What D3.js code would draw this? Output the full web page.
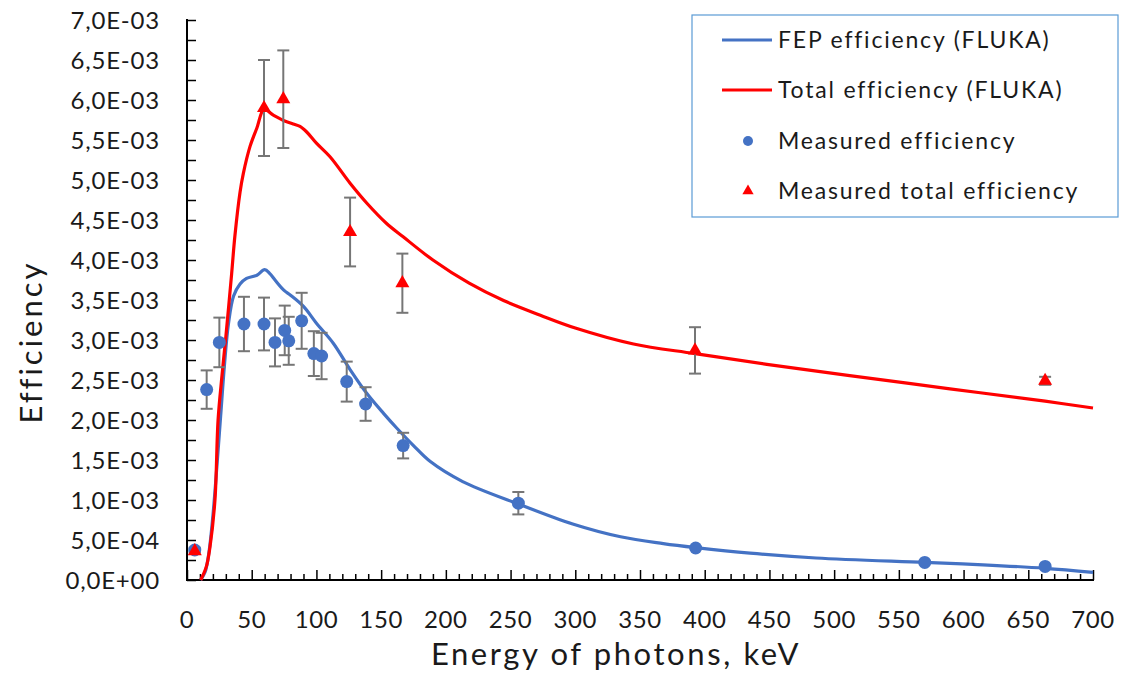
<!DOCTYPE html>
<html><head><meta charset="utf-8">
<script src="https://cdn.jsdelivr.net/npm/d3@7"></script>
<style>body{margin:0;background:#fff}svg{display:block}text{font-family:Lato,"Open Sans",sans-serif;fill:#1a1a1a}</style>
</head><body><svg id="c" width="1122" height="676"></svg>
<script>
// FLUKA FEP efficiency curve (keV, x1e-3)
const fepE = [10.5,14,17,20,23,26,29,32,36,41,46,54,60,64,68,75,80,90,100,113,126,139,152,162,175,188,213,256,298,335,368,393,435,486,570,615,663,700];
const fepV = [0,0.1,0.35,0.8,1.4,2.05,2.7,3.2,3.55,3.7,3.77,3.81,3.88,3.83,3.75,3.62,3.56,3.42,3.21,2.96,2.63,2.33,2.08,1.90,1.68,1.48,1.23,0.95,0.70,0.54,0.455,0.405,0.335,0.275,0.22,0.19,0.146,0.096];
// FLUKA total efficiency curve
const totE = [10.6,15,17.8,21.6,24,27,30,34.5,37,41,43.5,48.7,54,59.5,66.7,75,82,87.3,92.5,100,110.5,126,139,154,167,190,218,245,273,300,345,392.5,448,512,589.5,663,700];
const totV = [0,0.17,0.42,1.0,2.0,2.55,3.04,3.83,4.3,4.85,5.08,5.42,5.65,5.88,5.81,5.74,5.70,5.67,5.6,5.46,5.29,4.96,4.71,4.46,4.29,4.0,3.71,3.49,3.31,3.15,2.95,2.83,2.695,2.555,2.39,2.235,2.15];
// Measured FEP efficiency
const measE = [6,15.2,25,44,59.5,68,75.5,78.6,88.6,98,104,123.4,138,167,256,393,570,663];
const measV = [0.375,2.38,2.97,3.20,3.20,2.97,3.12,2.99,3.24,2.83,2.80,2.48,2.20,1.68,0.96,0.40,0.22,0.17];
const measErr = [0.03,0.24,0.31,0.34,0.33,0.30,0.31,0.30,0.35,0.28,0.29,0.25,0.21,0.16,0.14,0,0,0];
// Measured total efficiency
const totME = [6,59.5,74.4,126,166.4,392.5,663];
const totMV = [0.36,5.90,6.01,4.35,3.71,2.87,2.49];
const totMErr = [0,0.60,0.61,0.43,0.37,0.29,0.05];
// Ticks
const yMajor = [0,0.5,1,1.5,2,2.5,3,3.5,4,4.5,5,5.5,6,6.5,7];
const xMajor = [0,50,100,150,200,250,300,350,400,450,500,550,600,650,700];
const legendLabels = ["FEP efficiency (FLUKA)","Total efficiency (FLUKA)","Measured efficiency","Measured total efficiency"];

const S = 1e-3;
const svg = d3.select("#c");
const x = d3.scaleLinear().domain([0,700]).range([187,1093]);
const y = d3.scaleLinear().domain([0,7e-3]).range([580,20]);
const BLUE = "#4472c4", RED = "#ff0000", GREY = "#767676";

function fmt(v){
  let s = v.toExponential(1);
  let [m,e] = s.split("e");
  let sign = e[0]==="-"?"-":"+";
  let n = Math.abs(parseInt(e));
  return m.replace(".",",")+"E"+sign+(n<10?"0":"")+n;
}

// Y axis
const yMinor = d3.range(0,7.0001e-3,0.25e-3);
const yAx = svg.append("g").attr("transform","translate(187,0)")
  .call(d3.axisRight(y).tickValues(yMinor).tickSize(9).tickFormat(""));
yAx.select(".domain").attr("stroke","#000").attr("stroke-width",2).attr("d","M0,19V581");
yAx.selectAll(".tick line").attr("stroke","#000").attr("stroke-width",1.5);
svg.append("g").selectAll("text").data(yMajor).join("text")
  .attr("x",160).attr("y",d=>y(d*S)).attr("dy","0.36em").attr("text-anchor","end")
  .attr("font-size",24).attr("letter-spacing","0.8px").text(d=>fmt(d*S));

// X axis
const xMinor = d3.range(0,701,10);
const xAx = svg.append("g").attr("transform","translate(0,580)")
  .call(d3.axisTop(x).tickValues(xMinor).tickSize(6).tickFormat(""));
xAx.select(".domain").attr("stroke","#000").attr("stroke-width",2).attr("d","M186,0H1094");
xAx.selectAll(".tick line").attr("stroke","#000").attr("stroke-width",1.5)
  .attr("y2",d=>d%50===0?-10:-6);
svg.append("g").selectAll("text").data(xMajor).join("text")
  .attr("x",d=>x(d)).attr("y",628).attr("text-anchor","middle")
  .attr("font-size",24).attr("letter-spacing","0.6px").text(d=>d);

// Titles
svg.append("text").attr("x",616).attr("y",665).attr("text-anchor","middle")
  .attr("font-size",31).attr("letter-spacing","2.6px").text("Energy of photons, keV");
svg.append("text").attr("transform","translate(42,342) rotate(-90)").attr("text-anchor","middle")
  .attr("font-size",31).attr("letter-spacing","3px").text("Efficiency");

// Curves
const line = d3.line().x(d=>x(d[0])).y(d=>y(d[1]*S)).curve(d3.curveCatmullRom.alpha(0.5));
svg.append("path").datum(d3.zip(fepE,fepV)).attr("d",line)
  .attr("fill","none").attr("stroke",BLUE).attr("stroke-width",3.2).attr("stroke-linejoin","round");
svg.append("path").datum(d3.zip(totE,totV)).attr("d",line)
  .attr("fill","none").attr("stroke",RED).attr("stroke-width",3.2).attr("stroke-linejoin","round");

// Error bars
function errBars(E,V,Err){
  const g = svg.append("g").attr("stroke",GREY).attr("stroke-width",2).attr("fill","none");
  E.forEach((e,i)=>{
    if(!Err[i]) return;
    const cx = x(e), y1 = y((V[i]+Err[i])*S), y2 = y((V[i]-Err[i])*S);
    g.append("line").attr("x1",cx).attr("x2",cx).attr("y1",y1).attr("y2",y2);
    g.append("line").attr("x1",cx-6).attr("x2",cx+6).attr("y1",y1).attr("y2",y1);
    g.append("line").attr("x1",cx-6).attr("x2",cx+6).attr("y1",y2).attr("y2",y2);
  });
}
errBars(measE,measV,measErr);
errBars(totME,totMV,totMErr);

// Markers
svg.append("g").selectAll("circle").data(d3.zip(measE,measV)).join("circle")
  .attr("cx",d=>x(d[0])).attr("cy",d=>y(d[1]*S)).attr("r",6.5).attr("fill",BLUE);
const tri = d3.symbol().type(d3.symbolTriangle).size(85);
svg.append("g").selectAll("path").data(d3.zip(totME,totMV)).join("path")
  .attr("transform",d=>`translate(${x(d[0])},${y(d[1]*S)})`).attr("d",tri).attr("fill",RED);

// Legend
const lg = svg.append("g");
lg.append("rect").attr("x",692).attr("y",15).attr("width",426).attr("height",202)
  .attr("fill","#fff").attr("stroke","#5b9bd5").attr("stroke-width",1.2);
const rowsY = [40,90,141,191];
lg.append("line").attr("x1",722).attr("x2",772).attr("y1",rowsY[0]).attr("y2",rowsY[0]).attr("stroke",BLUE).attr("stroke-width",3);
lg.append("line").attr("x1",722).attr("x2",772).attr("y1",rowsY[1]).attr("y2",rowsY[1]).attr("stroke",RED).attr("stroke-width",3);
lg.append("circle").attr("cx",748).attr("cy",rowsY[2]).attr("r",5).attr("fill",BLUE);
lg.append("path").attr("transform",`translate(748,${rowsY[3]})`).attr("d",d3.symbol().type(d3.symbolTriangle).size(55)).attr("fill",RED);
lg.selectAll("text.l").data(legendLabels).join("text").attr("class","l")
  .attr("x",778).attr("y",(d,i)=>rowsY[i]).attr("dy","0.36em").attr("font-size",23).attr("letter-spacing","1.8px").text(d=>d);
</script></body></html>
